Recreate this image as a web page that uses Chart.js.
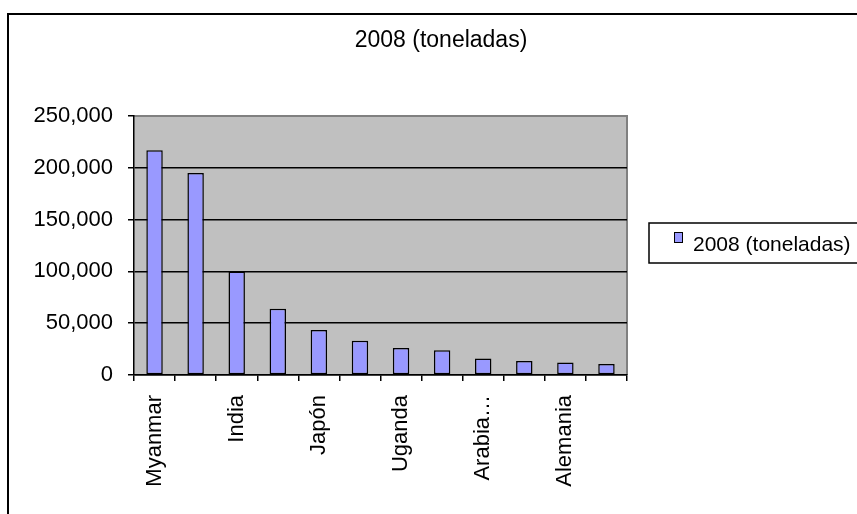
<!DOCTYPE html>
<html>
<head>
<meta charset="utf-8">
<script src="https://cdn.jsdelivr.net/npm/chart.js@4.4.1/dist/chart.umd.min.js"></script>
<style>
  html, body { margin: 0; padding: 0; background: #fff; overflow: hidden; }
  #frame { position: absolute; left: 7px; top: 13px; width: 900px; height: 600px; border: 2px solid #000; }
  #wrap { position: absolute; left: 0; top: 0; width: 857px; height: 514px; }
</style>
</head>
<body>
<div id="frame"></div>
<div id="wrap"><canvas id="chart" width="857" height="514"></canvas></div>
<script>
const FONT = "'Liberation Sans', Arial, sans-serif";

const categories = ['Myanmar', '', 'India', '', 'Japón', '', 'Uganda', '', 'Arabia Saudita', '', 'Alemania', ''];
const toneladas2008 = [217000, 195000, 100000, 64000, 43500, 33000, 26000, 24000, 16000, 13500, 12000, 10500];
const seriesLabel = '2008 (toneladas)';
const yTicks = [0, 50000, 100000, 150000, 200000, 250000];

function shortLabel(s) {
    if (s.length > 10) return s.split(' ')[0] + '…';
    return s;
}

// gray plot area with gray top/right border, Excel style
const plotArea = {
    id: 'plotArea',
    beforeDraw(chart) {
        const { ctx, chartArea: a } = chart;
        ctx.save();
        ctx.fillStyle = '#C0C0C0';
        ctx.fillRect(a.left, a.top, a.right - a.left, a.bottom - a.top);
        ctx.strokeStyle = '#808080';
        ctx.lineWidth = 2;
        ctx.beginPath();
        ctx.moveTo(a.left, a.top);
        ctx.lineTo(a.right, a.top);
        ctx.lineTo(a.right, a.bottom);
        ctx.stroke();
        ctx.restore();
    }
};

// boxed legend on the right
const boxLegend = {
    id: 'boxLegend',
    afterDraw(chart) {
        const ctx = chart.ctx;
        const ds = chart.data.datasets[0];
        ctx.save();
        ctx.fillStyle = '#fff';
        ctx.fillRect(649, 223, 220, 40);
        ctx.strokeStyle = '#000';
        ctx.lineWidth = 1.5;
        ctx.strokeRect(649, 223, 220, 40);
        ctx.fillStyle = ds.backgroundColor;
        ctx.fillRect(674.5, 232.5, 8, 10);
        ctx.lineWidth = 1;
        ctx.strokeRect(674.5, 232.5, 8, 10);
        ctx.fillStyle = '#000';
        ctx.font = '21px ' + FONT;
        ctx.textAlign = 'left';
        ctx.textBaseline = 'middle';
        ctx.fillText(ds.label, 693, 245);
        ctx.restore();
    }
};

new Chart(document.getElementById('chart'), {
    type: 'bar',
    data: {
        labels: categories,
        datasets: [{
            label: seriesLabel,
            data: toneladas2008,
            backgroundColor: '#9999FF',
            borderColor: '#000',
            borderWidth: 1.5,
            borderSkipped: false,
            barPercentage: 0.4,
            categoryPercentage: 1.0
        }]
    },
    options: {
        responsive: false,
        animation: false,
        layout: { padding: { left: 25, right: 0, top: 0, bottom: 0 } },
        plugins: {
            legend: { display: false },
            tooltip: { enabled: false },
            title: {
                display: true,
                text: seriesLabel,
                color: '#000',
                font: { family: FONT, size: 23, weight: 'normal' },
                padding: { top: 27, bottom: 61.4 }
            }
        },
        scales: {
            x: {
                afterFit: s => { s.height = 139; },
                grid: {
                    offset: true,
                    drawOnChartArea: false,
                    drawTicks: true,
                    tickLength: 6,
                    tickColor: '#000',
                    lineWidth: 1.5
                },
                border: { color: '#000', width: 1.5 },
                ticks: {
                    autoSkip: false,
                    minRotation: 90,
                    maxRotation: 90,
                    padding: 14,
                    color: '#000',
                    font: { family: FONT, size: 22 },
                    callback: function (v, i) { return shortLabel(categories[i]); }
                }
            },
            y: {
                min: 0,
                max: 250000,
                afterFit: s => { s.width = 109; },
                afterBuildTicks: s => { s.ticks = yTicks.map(v => ({ value: v })); },
                grid: {
                    color: c => (c.tick && c.tick.value === 250000) ? 'rgba(0,0,0,0)' : '#000',
                    lineWidth: 1.5,
                    tickLength: 6,
                    tickColor: '#000'
                },
                border: { color: '#000', width: 1.5 },
                ticks: {
                    padding: 15,
                    color: '#000',
                    font: { family: FONT, size: 22 },
                    callback: v => v.toLocaleString('en-US')
                }
            },
            // empty right-hand box that leaves room for the legend
            side: {
                position: 'right',
                afterFit: s => { s.width = 230; },
                grid: { display: false, drawOnChartArea: false },
                border: { display: false },
                ticks: { display: false }
            }
        }
    },
    plugins: [plotArea, boxLegend]
});
</script>
</body>
</html>
